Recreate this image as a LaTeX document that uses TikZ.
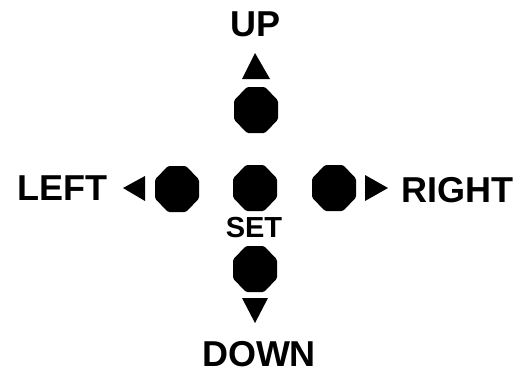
\documentclass[tikz,border=0pt]{standalone}
\usepackage{fontspec}
\setmainfont{Liberation Sans}
\begin{document}
\begin{tikzpicture}[x=1pt,y=-1pt,
  lbl/.style={inner sep=0pt,font=\fontsize{36}{36}\selectfont\bfseries},
  setlbl/.style={inner sep=0pt,font=\fontsize{29}{29}\selectfont\bfseries},
  btn/.style={fill=black,rounded corners=1.5pt},
  tri/.style={fill=black}]
\useasboundingbox (0,0) rectangle (519,373);
\fill[white] (0,0) rectangle (519,373);
% octagon buttons
\def\oct#1#2{\fill[btn] (#1-22,#2-9.5) -- (#1-9,#2-23) -- (#1+9,#2-23) -- (#1+22,#2-9.5) -- (#1+22,#2+9.5) -- (#1+9,#2+23) -- (#1-9,#2+23) -- (#1-22,#2+9.5) -- cycle;}
\oct{256}{110}
\oct{177}{189}
\oct{255}{188}
\oct{334}{188}
\oct{255}{269}
% triangles
\fill[tri] (255,53) -- (270,79) -- (242,79) -- cycle;
\fill[tri] (255,323) -- (242,298) -- (268,298) -- cycle;
\fill[tri] (123,188) -- (145,176) -- (145,201) -- cycle;
\fill[tri] (388,188) -- (365,175) -- (365,201) -- cycle;
% labels
\node[lbl] (up) at (256,24.5) {UP};
\node[lbl] (left) at (62,188.5) {LEFT};
\node[lbl] (right) at (457,190) {RIGHT};
\node[setlbl] (set) at (254,228) {SET};
\node[lbl] (down) at (259,354) {DOWN};
\end{tikzpicture}
\end{document}
